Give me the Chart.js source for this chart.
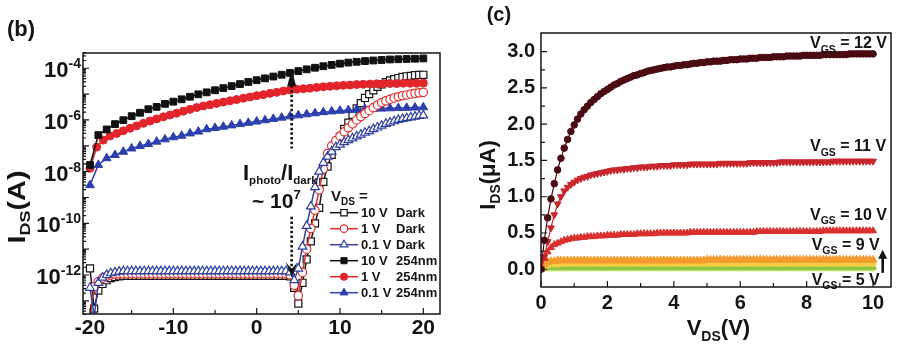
<!DOCTYPE html>
<html>
<head>
<meta charset="utf-8">
<title>Transfer and output curves</title>
<script src="https://cdn.jsdelivr.net/npm/chart.js@4.4.1/dist/chart.umd.min.js"></script>
<style>
  html, body { margin: 0; padding: 0; background: #fff; }
  #wrap { position: relative; width: 897px; height: 351px; overflow: hidden; }
  .panel { position: absolute; top: 0; height: 351px; }
  #panelB { left: 0; width: 450px; }
  #panelC { left: 450px; width: 447px; }
</style>
</head>
<body>
<div id="wrap">
  <div class="panel" id="panelB"><canvas id="transferChart"></canvas></div>
  <div class="panel" id="panelC"><canvas id="outputChart"></canvas></div>
</div>
<script>
const FONT = "'Liberation Sans', Arial, sans-serif";
const INK = "#141414";

// measurement sweep grid (independent variable only)
function sweep(start, step, n) {
    return Array.from({ length: n }, (_, i) => +(start + i * step).toFixed(2));
}

// ---------- (b) transfer curves, I_DS (A) vs V_GS (V) ----------
const vgsStep1 = sweep(-20, 1, 41);
const vgsStep08 = sweep(-20, 0.8, 51);
const vgsStep05 = sweep(-20, 0.5, 81);

// under 254 nm light
const photo10V = [
    1.8e-8, 2.6e-7, 4.3e-7, 6.9e-7, 9.8e-7, 1.4e-6, 1.9e-6, 2.6e-6, 3.2e-6, 4.2e-6,
    5.1e-6, 6.3e-6, 7.9e-6, 9.8e-6, 1.17e-5, 1.41e-5, 1.7e-5, 2.04e-5, 2.45e-5, 2.95e-5,
    3.47e-5, 4.07e-5, 4.79e-5, 5.62e-5, 6.6e-5, 7.76e-5, 9.1e-5, 1.05e-4, 1.2e-4, 1.35e-4,
    1.51e-4, 1.66e-4, 1.78e-4, 1.9e-4, 2.0e-4, 2.09e-4, 2.19e-4, 2.24e-4, 2.29e-4, 2.34e-4,
    2.4e-4
];
const photo1V = [
    1.35e-8, 8.9e-8, 1.66e-7, 2.4e-7, 3.0e-7, 3.8e-7, 4.8e-7, 5.9e-7, 7.4e-7, 9.1e-7,
    1.1e-6, 1.32e-6, 1.55e-6, 1.82e-6, 2.19e-6, 2.57e-6, 3.02e-6, 3.47e-6, 3.89e-6, 4.37e-6,
    4.9e-6, 5.5e-6, 6.17e-6, 6.92e-6, 7.76e-6, 8.7e-6, 9.55e-6, 1.07e-5, 1.17e-5, 1.32e-5,
    1.45e-5, 1.55e-5, 1.62e-5, 1.7e-5, 1.82e-5, 1.91e-5, 2.0e-5, 2.09e-5, 2.19e-5, 2.24e-5,
    2.34e-5, 2.4e-5, 2.45e-5, 2.51e-5, 2.51e-5, 2.57e-5, 2.57e-5, 2.63e-5, 2.63e-5, 2.63e-5,
    2.69e-5
];
const photo01V = [
    3.0e-9, 1.82e-8, 3.3e-8, 4.4e-8, 5.9e-8, 7.9e-8, 9.8e-8, 1.17e-7, 1.45e-7, 1.78e-7,
    2.14e-7, 2.45e-7, 3.02e-7, 3.55e-7, 4.37e-7, 4.9e-7, 5.5e-7, 6.17e-7, 6.92e-7, 7.76e-7,
    8.7e-7, 9.77e-7, 1.1e-6, 1.23e-6, 1.38e-6, 1.51e-6, 1.66e-6, 1.82e-6, 2.0e-6, 2.14e-6,
    2.29e-6, 2.4e-6, 2.51e-6, 2.63e-6, 2.69e-6, 2.75e-6, 2.82e-6, 2.88e-6, 2.95e-6, 3.02e-6,
    3.09e-6
];

// in the dark
const dark10V = [
    1.8e-12, 5.0e-14, 2.5e-13, 4.5e-13, 6.3e-13, 7.6e-13, 8.3e-13, 8.9e-13,
    9.3e-13, 9.3e-13, 9.3e-13, 9.3e-13, 9.3e-13, 9.3e-13, 9.3e-13, 9.3e-13, 9.3e-13, 9.3e-13,
    9.3e-13, 9.3e-13, 9.3e-13, 9.3e-13, 9.3e-13, 9.3e-13, 9.3e-13, 9.3e-13, 9.3e-13, 9.3e-13,
    9.3e-13, 9.3e-13, 9.3e-13, 9.3e-13, 9.3e-13, 9.3e-13, 9.3e-13, 9.3e-13, 9.3e-13, 9.3e-13,
    9.3e-13, 9.3e-13, 9.3e-13, 9.3e-13, 9.3e-13, 9.3e-13, 9.3e-13, 9.3e-13, 9.3e-13, 9.3e-13,
    8.9e-13, 3.2e-13, 7.9e-14, 5.0e-13, 4.0e-12, 2.0e-11, 1.0e-10, 4.0e-10, 4.0e-9, 1.58e-8,
    4.5e-8, 1.05e-7, 2.24e-7, 4.5e-7, 7.9e-7, 1.58e-6, 2.8e-6, 4.5e-6, 7.1e-6, 1.0e-5,
    1.41e-5, 1.9e-5, 2.4e-5, 2.9e-5, 3.4e-5, 3.8e-5, 4.2e-5, 4.6e-5, 4.9e-5, 5.1e-5,
    5.4e-5, 5.5e-5, 5.6e-5
];
const dark1V = [
    2.0e-14, 3.5e-13, 5.6e-13, 7.6e-13, 8.9e-13, 1.0e-12, 1.07e-12, 1.12e-12,
    1.12e-12, 1.12e-12, 1.12e-12, 1.12e-12, 1.12e-12, 1.12e-12, 1.12e-12, 1.12e-12, 1.12e-12, 1.12e-12,
    1.12e-12, 1.12e-12, 1.12e-12, 1.12e-12, 1.12e-12, 1.12e-12, 1.12e-12, 1.12e-12, 1.12e-12, 1.12e-12,
    1.12e-12, 1.12e-12, 1.12e-12, 1.12e-12, 1.12e-12, 1.12e-12, 1.12e-12, 1.12e-12, 1.12e-12, 1.12e-12,
    1.12e-12, 1.12e-12, 1.12e-12, 1.12e-12, 1.12e-12, 1.12e-12, 1.12e-12, 1.12e-12, 1.12e-12, 1.12e-12,
    1.0e-12, 4.0e-13, 1.58e-13, 1.26e-12, 1.0e-11, 6.3e-11, 3.2e-10, 2.0e-9, 1.26e-8, 5.0e-8,
    1.0e-7, 1.58e-7, 2.4e-7, 3.5e-7, 5.0e-7, 7.1e-7, 1.0e-6, 1.35e-6, 1.78e-6, 2.34e-6,
    3.0e-6, 3.8e-6, 4.7e-6, 5.5e-6, 6.3e-6, 7.1e-6, 7.9e-6, 8.7e-6, 9.3e-6, 1.0e-5,
    1.07e-5, 1.12e-5, 1.17e-5
];
const dark01V = [
    3.2e-13, 2.5e-14, 5.0e-13, 7.9e-13, 1.0e-12, 1.17e-12, 1.26e-12, 1.35e-12,
    1.41e-12, 1.41e-12, 1.41e-12, 1.41e-12, 1.41e-12, 1.41e-12, 1.41e-12, 1.41e-12, 1.41e-12, 1.41e-12,
    1.41e-12, 1.41e-12, 1.41e-12, 1.41e-12, 1.41e-12, 1.41e-12, 1.41e-12, 1.41e-12, 1.41e-12, 1.41e-12,
    1.41e-12, 1.41e-12, 1.41e-12, 1.41e-12, 1.41e-12, 1.41e-12, 1.41e-12, 1.41e-12, 1.41e-12, 1.41e-12,
    1.41e-12, 1.41e-12, 1.41e-12, 1.41e-12, 1.41e-12, 1.41e-12, 1.41e-12, 1.41e-12, 1.41e-12, 1.41e-12,
    1.26e-12, 6.3e-13, 1.78e-12, 1.26e-11, 7.9e-11, 4.5e-10, 2.5e-9, 1.0e-8, 2.2e-8, 3.8e-8,
    6.0e-8, 8.9e-8, 1.12e-7, 1.38e-7, 1.66e-7, 1.95e-7, 2.3e-7, 2.7e-7, 3.2e-7, 3.7e-7,
    4.4e-7, 5.1e-7, 6.0e-7, 7.1e-7, 7.9e-7, 8.9e-7, 1.0e-6, 1.1e-6, 1.17e-6, 1.26e-6,
    1.35e-6, 1.45e-6, 1.51e-6
];

const bXTicks = [-20, -10, 0, 10, 20];
const bXMinor = [-15, -5, 5, 15];
const bYExponents = [-4, -6, -8, -10, -12];
const bLegendVds = ["10 V", "1 V", "0.1 V", "10 V", "1 V", "0.1 V"];
const bLegendLight = ["Dark", "Dark", "Dark", "254nm", "254nm", "254nm"];
// photo/dark ratio marker: gate voltage, upper arrow (tip, tail), lower arrow (tail, tip)
const ratioVgs = 4.2;
const ratioUpper = [9.1e-5, 7.9e-8];
const ratioLower = [1.8e-10, 8.3e-13];

// ---------- (c) output curves, I_DS (uA) vs V_DS (V) ----------
const vdsSweep = sweep(0, 0.1, 101);
const ids12 = [
    0.00, 0.40, 0.71, 0.97, 1.18, 1.37, 1.53, 1.67, 1.79, 1.90,
    1.99, 2.07, 2.14, 2.20, 2.25, 2.30, 2.34, 2.38, 2.42, 2.45,
    2.48, 2.51, 2.54, 2.56, 2.59, 2.61, 2.63, 2.65, 2.67, 2.68,
    2.70, 2.71, 2.73, 2.74, 2.75, 2.76, 2.77, 2.78, 2.79, 2.79,
    2.80, 2.81, 2.81, 2.82, 2.82, 2.83, 2.84, 2.84, 2.85, 2.85,
    2.86, 2.86, 2.87, 2.87, 2.87, 2.88, 2.88, 2.89, 2.89, 2.89,
    2.90, 2.90, 2.90, 2.91, 2.91, 2.91, 2.92, 2.92, 2.92, 2.92,
    2.93, 2.93, 2.93, 2.93, 2.94, 2.94, 2.94, 2.94, 2.94, 2.95,
    2.95, 2.95, 2.95, 2.95, 2.95, 2.96, 2.96, 2.96, 2.96, 2.96,
    2.96, 2.96, 2.96, 2.97, 2.97, 2.97, 2.97, 2.97, 2.97, 2.97,
    2.97
];
const ids11 = [
    0.00, 0.17, 0.38, 0.57, 0.75, 0.90, 1.00, 1.08, 1.13, 1.17,
    1.20, 1.23, 1.25, 1.27, 1.28, 1.30, 1.31, 1.32, 1.33, 1.34,
    1.35, 1.36, 1.37, 1.37, 1.38, 1.38, 1.39, 1.39, 1.40, 1.40,
    1.41, 1.41, 1.41, 1.42, 1.42, 1.42, 1.43, 1.43, 1.43, 1.43,
    1.44, 1.44, 1.44, 1.44, 1.44, 1.45, 1.45, 1.45, 1.45, 1.45,
    1.45, 1.45, 1.45, 1.45, 1.46, 1.46, 1.46, 1.46, 1.46, 1.46,
    1.46, 1.46, 1.46, 1.47, 1.47, 1.47, 1.47, 1.47, 1.47, 1.47,
    1.47, 1.47, 1.48, 1.48, 1.48, 1.48, 1.48, 1.48, 1.48, 1.48,
    1.48, 1.48, 1.48, 1.48, 1.48, 1.48, 1.48, 1.48, 1.49, 1.49,
    1.49, 1.49, 1.49, 1.49, 1.49, 1.49, 1.49, 1.49, 1.49, 1.49,
    1.49
];
const ids10 = [
    0.00, 0.15, 0.24, 0.30, 0.34, 0.36, 0.38, 0.40, 0.41, 0.42,
    0.43, 0.43, 0.44, 0.44, 0.45, 0.45, 0.45, 0.46, 0.46, 0.46,
    0.47, 0.47, 0.47, 0.47, 0.48, 0.48, 0.48, 0.48, 0.48, 0.49,
    0.49, 0.49, 0.49, 0.49, 0.49, 0.50, 0.50, 0.50, 0.50, 0.50,
    0.50, 0.50, 0.50, 0.50, 0.50, 0.51, 0.51, 0.51, 0.51, 0.51,
    0.51, 0.51, 0.51, 0.51, 0.51, 0.51, 0.51, 0.51, 0.51, 0.51,
    0.51, 0.51, 0.51, 0.51, 0.51, 0.52, 0.52, 0.52, 0.52, 0.52,
    0.52, 0.52, 0.52, 0.52, 0.52, 0.52, 0.52, 0.52, 0.52, 0.52,
    0.52, 0.52, 0.52, 0.52, 0.52, 0.53, 0.53, 0.53, 0.53, 0.53,
    0.53, 0.53, 0.53, 0.53, 0.53, 0.53, 0.53, 0.53, 0.53, 0.53,
    0.53
];
const ids9 = [
    0.00, 0.07, 0.10, 0.11, 0.11, 0.12, 0.12, 0.12, 0.12, 0.12,
    0.12, 0.12, 0.12, 0.12, 0.12, 0.12, 0.12, 0.12, 0.12, 0.12,
    0.12, 0.12, 0.12, 0.12, 0.12, 0.12, 0.12, 0.12, 0.12, 0.12,
    0.12, 0.12, 0.12, 0.12, 0.12, 0.12, 0.12, 0.12, 0.12, 0.12,
    0.12, 0.12, 0.12, 0.12, 0.12, 0.12, 0.12, 0.12, 0.12, 0.12,
    0.13, 0.13, 0.13, 0.13, 0.13, 0.13, 0.13, 0.13, 0.13, 0.13,
    0.13, 0.13, 0.13, 0.13, 0.13, 0.13, 0.13, 0.13, 0.13, 0.13,
    0.13, 0.13, 0.13, 0.13, 0.13, 0.13, 0.13, 0.13, 0.13, 0.13,
    0.13, 0.13, 0.13, 0.13, 0.13, 0.13, 0.13, 0.13, 0.13, 0.13,
    0.13, 0.13, 0.13, 0.13, 0.13, 0.13, 0.13, 0.13, 0.13, 0.13,
    0.13
];
const ids8 = [
    0.00, 0.04, 0.06, 0.07, 0.07, 0.07, 0.08, 0.08, 0.08, 0.08,
    0.08, 0.08, 0.08, 0.08, 0.08, 0.08, 0.08, 0.08, 0.08, 0.08,
    0.08, 0.08, 0.08, 0.08, 0.08, 0.08, 0.08, 0.08, 0.08, 0.08,
    0.08, 0.08, 0.08, 0.08, 0.08, 0.08, 0.08, 0.08, 0.08, 0.08,
    0.08, 0.08, 0.08, 0.08, 0.08, 0.08, 0.08, 0.08, 0.08, 0.08,
    0.08, 0.08, 0.08, 0.08, 0.08, 0.08, 0.08, 0.08, 0.08, 0.08,
    0.08, 0.08, 0.08, 0.08, 0.08, 0.08, 0.08, 0.08, 0.08, 0.08,
    0.08, 0.08, 0.08, 0.08, 0.08, 0.08, 0.08, 0.08, 0.08, 0.08,
    0.08, 0.08, 0.08, 0.08, 0.08, 0.08, 0.08, 0.08, 0.08, 0.08,
    0.08, 0.08, 0.08, 0.08, 0.08, 0.08, 0.08, 0.08, 0.08, 0.08,
    0.08
];
const ids7 = [
    0.00, 0.02, 0.03, 0.03, 0.03, 0.03, 0.03, 0.03, 0.03, 0.03,
    0.03, 0.03, 0.03, 0.03, 0.03, 0.03, 0.03, 0.03, 0.03, 0.03,
    0.03, 0.03, 0.03, 0.03, 0.03, 0.03, 0.03, 0.03, 0.03, 0.03,
    0.03, 0.03, 0.03, 0.03, 0.03, 0.03, 0.03, 0.03, 0.03, 0.03,
    0.03, 0.03, 0.03, 0.03, 0.03, 0.03, 0.03, 0.03, 0.03, 0.03,
    0.03, 0.03, 0.03, 0.03, 0.03, 0.03, 0.03, 0.03, 0.03, 0.03,
    0.03, 0.03, 0.03, 0.03, 0.03, 0.03, 0.03, 0.03, 0.03, 0.03,
    0.03, 0.03, 0.03, 0.03, 0.03, 0.03, 0.03, 0.03, 0.03, 0.03,
    0.03, 0.03, 0.03, 0.03, 0.03, 0.03, 0.03, 0.03, 0.03, 0.03,
    0.03, 0.03, 0.03, 0.03, 0.03, 0.03, 0.03, 0.03, 0.03, 0.03,
    0.03
];
const ids6 = [
    0.00, 0.01, 0.01, 0.01, 0.01, 0.01, 0.01, 0.01, 0.01, 0.01,
    0.01, 0.01, 0.01, 0.01, 0.01, 0.01, 0.01, 0.01, 0.01, 0.01,
    0.01, 0.01, 0.01, 0.01, 0.01, 0.01, 0.01, 0.01, 0.01, 0.01,
    0.01, 0.01, 0.01, 0.01, 0.01, 0.01, 0.01, 0.01, 0.01, 0.01,
    0.01, 0.01, 0.01, 0.01, 0.01, 0.01, 0.01, 0.01, 0.01, 0.01,
    0.01, 0.01, 0.01, 0.01, 0.01, 0.01, 0.01, 0.01, 0.01, 0.01,
    0.01, 0.01, 0.01, 0.01, 0.01, 0.01, 0.01, 0.01, 0.01, 0.01,
    0.01, 0.01, 0.01, 0.01, 0.01, 0.01, 0.01, 0.01, 0.01, 0.01,
    0.01, 0.01, 0.01, 0.01, 0.01, 0.01, 0.01, 0.01, 0.01, 0.01,
    0.01, 0.01, 0.01, 0.01, 0.01, 0.01, 0.01, 0.01, 0.01, 0.01,
    0.01
];
const ids5 = [
    0, 0, 0, 0, 0, 0, 0, 0, 0, 0,
    0, 0, 0, 0, 0, 0, 0, 0, 0, 0,
    0, 0, 0, 0, 0, 0, 0, 0, 0, 0,
    0, 0, 0, 0, 0, 0, 0, 0, 0, 0,
    0, 0, 0, 0, 0, 0, 0, 0, 0, 0,
    0, 0, 0, 0, 0, 0, 0, 0, 0, 0,
    0, 0, 0, 0, 0, 0, 0, 0, 0, 0,
    0, 0, 0, 0, 0, 0, 0, 0, 0, 0,
    0, 0, 0, 0, 0, 0, 0, 0, 0, 0,
    0, 0, 0, 0, 0, 0, 0, 0, 0, 0,
    0
];

const cVgs = [12, 11, 10, 9, 8, 7, 6, 5];
const cXTicks = [0, 2, 4, 6, 8, 10];
const cXMinor = [1, 3, 5, 7, 9];
const cYTicks = [0, 0.5, 1, 1.5, 2, 2.5, 3];
const cYMinor = [0.25, 0.75, 1.25, 1.75, 2.25, 2.75];
// curve labels: V_GS value and where the label sits (V_DS, I_DS)
const cNoteVgs = ["12", "11", "10", "9", "5"];
const cNoteAt = [[8.1, 3.05], [8.1, 1.625], [8.1, 0.68], [8.15, 0.266], [8.15, -0.216]];
const cArrow = [10.29, -0.05, 0.27];

// ---------- helpers ----------
function series(xs, ys) {
    return xs.map((x, i) => ({ x, y: ys[i] }));
}

// text made of runs: [text, size, dy]; sx stretches horizontally
function rich(ctx, parts, x, y, align, sx) {
    sx = sx || 1;
    const widths = parts.map(p => {
        ctx.font = `bold ${p[1]}px ${FONT}`;
        return ctx.measureText(p[0]).width * sx;
    });
    const total = widths.reduce((s, w) => s + w, 0);
    let cx = align === "center" ? x - total / 2 : align === "right" ? x - total : x;
    ctx.textAlign = "left";
    ctx.textBaseline = "alphabetic";
    parts.forEach((p, i) => {
        ctx.font = `bold ${p[1]}px ${FONT}`;
        ctx.save();
        ctx.translate(cx, y + (p[2] || 0));
        ctx.scale(sx, 1);
        ctx.fillText(p[0], 0, 0);
        ctx.restore();
        cx += widths[i];
    });
}

function richVertical(ctx, parts, cx, cy, sx) {
    ctx.save();
    ctx.translate(cx, cy);
    ctx.rotate(-Math.PI / 2);
    rich(ctx, parts, 0, parts[0][1] * 0.36, "center", sx);
    ctx.restore();
}

function inwardTicks(ctx, chart, axis, values, len) {
    const a = chart.chartArea, s = chart.scales[axis];
    ctx.beginPath();
    values.forEach(v => {
        const p = s.getPixelForValue(v);
        if (axis === "x") {
            if (p < a.left - 0.5 || p > a.right + 0.5) return;
            ctx.moveTo(p, a.bottom);
            ctx.lineTo(p, a.bottom - len);
        } else {
            if (p < a.top - 0.5 || p > a.bottom + 0.5) return;
            ctx.moveTo(a.left, p);
            ctx.lineTo(a.left + len, p);
        }
    });
    ctx.stroke();
}

const tickFont = size => ({ family: FONT, size, weight: "bold" });

// ---------- (b) chart ----------
// x, y, colour, marker, radius, open marker, drawing order (0 = on top)
const bStyles = [
    [vgsStep05, dark10V, "#161616", "rect", 5, true, 5],
    [vgsStep05, dark1V, "#e0302f", "circle", 4.2, true, 1],
    [vgsStep05, dark01V, "#2e3f9e", "triangle", 5, true, 0],
    [vgsStep1, photo10V, "#111111", "rect", 4.8, false, 2],
    [vgsStep08, photo1V, "#e3242b", "circle", 4, false, 3],
    [vgsStep1, photo01V, "#2b3fae", "triangle", 5, false, 4],
];

const transferSets = bStyles.map((s, i) => ({
    label: bLegendVds[i] + " " + bLegendLight[i],
    data: series(s[0], s[1]),
    borderColor: s[2],
    borderWidth: 1.5,
    pointStyle: s[3],
    pointRadius: s[4],
    pointBorderColor: s[2],
    pointBorderWidth: s[5] ? 1.2 : 1,
    pointBackgroundColor: s[5] ? "#ffffff" : s[2],
    order: s[6],
    tension: 0,
    fill: false,
}));

const transferDecor = {
    id: "transferDecor",
    afterDraw(chart) {
        const { ctx, chartArea: a, scales: { x, y } } = chart;
        ctx.save();
        ctx.strokeStyle = INK;
        ctx.fillStyle = INK;
        ctx.lineWidth = 1.5;
        ctx.strokeRect(a.left, a.top, a.width, a.height);

        ctx.lineWidth = 1.2;
        inwardTicks(ctx, chart, "x", bXTicks, 6);
        inwardTicks(ctx, chart, "x", bXMinor, 4);
        const major = [], minor = [];
        for (let e = -14; e <= -3; e++) {
            major.push(10 ** e);
            for (let k = 2; k <= 9; k++) minor.push(k * 10 ** e);
        }
        inwardTicks(ctx, chart, "y", major, 6);
        inwardTicks(ctx, chart, "y", minor, 3);

        // log tick labels 10^n
        bYExponents.forEach(e => {
            const py = y.getPixelForValue(10 ** e);
            rich(ctx, [["10", 22], [String(e), 14, -9]], a.left - 2, py + 9, "right");
        });

        richVertical(ctx, [["I", 24], ["DS", 15, 5], ["(A)", 24]], 16, 207, 1.2);
        rich(ctx, [["(b)", 22]], 7, 36, "left");

        // photo / dark ratio arrow
        const ax = x.getPixelForValue(ratioVgs);
        const upTip = y.getPixelForValue(ratioUpper[0]);
        const upTail = y.getPixelForValue(ratioUpper[1]);
        const lowTail = y.getPixelForValue(ratioLower[0]);
        const lowTip = y.getPixelForValue(ratioLower[1]);
        ctx.lineWidth = 2.6;
        ctx.setLineDash([2.5, 2.2]);
        ctx.beginPath();
        ctx.moveTo(ax, upTip + 16);
        ctx.lineTo(ax, upTail);
        ctx.moveTo(ax, lowTail);
        ctx.lineTo(ax, lowTip - 8);
        ctx.stroke();
        ctx.setLineDash([]);
        ctx.beginPath();
        ctx.moveTo(ax, upTip);
        ctx.lineTo(ax - 4.5, upTip + 17);
        ctx.lineTo(ax + 4.5, upTip + 17);
        ctx.closePath();
        ctx.fill();
        ctx.beginPath();
        ctx.moveTo(ax, lowTip);
        ctx.lineTo(ax - 6, lowTip - 15);
        ctx.lineTo(ax, lowTip - 8);
        ctx.lineTo(ax + 6, lowTip - 15);
        ctx.closePath();
        ctx.fill();

        rich(ctx, [["I", 22], ["photo", 11.5, 4], ["/I", 22], ["dark", 11.5, 4]],
            x.getPixelForValue(-1.64), y.getPixelForValue(4.8e-9), "left");
        rich(ctx, [["~ 10", 21], ["7", 13, -9]],
            x.getPixelForValue(-0.56), y.getPixelForValue(3.9e-10), "left");

        // legend
        rich(ctx, [["V", 15], ["DS", 10, 4], [" =", 15]], 331, 201, "left");
        chart.data.datasets.forEach((ds, i) => {
            const ly = 212.7 + i * 16;
            ctx.strokeStyle = ds.borderColor;
            ctx.lineWidth = 1.5;
            ctx.beginPath();
            ctx.moveTo(330, ly);
            ctx.lineTo(358, ly);
            ctx.stroke();
            ctx.fillStyle = ds.pointBackgroundColor;
            ctx.lineWidth = ds.pointBorderWidth;
            Chart.helpers.drawPoint(ctx, {
                pointStyle: ds.pointStyle, radius: ds.pointRadius * 0.9,
                rotation: 0, borderWidth: ds.pointBorderWidth
            }, 344, ly);
            ctx.fillStyle = INK;
            ctx.font = `bold 13px ${FONT}`;
            ctx.textBaseline = "middle";
            ctx.textAlign = "left";
            ctx.fillText(bLegendVds[i], 361, ly + 0.5);
            ctx.fillText(bLegendLight[i], 396, ly + 0.5);
        });
        ctx.restore();
    }
};

new Chart(document.getElementById("transferChart"), {
    type: "line",
    data: { datasets: transferSets },
    options: {
        responsive: true,
        maintainAspectRatio: false,
        animation: false,
        events: [],
        layout: { padding: { top: 53, right: 10, left: 0, bottom: 0 } },
        plugins: { legend: { display: false }, tooltip: { enabled: false } },
        scales: {
            x: {
                type: "linear",
                min: -20.84,
                max: 22.0,
                grid: { display: false, drawTicks: false },
                border: { display: false },
                afterBuildTicks: s => { s.ticks = bXTicks.map(v => ({ value: v })); },
                ticks: { color: INK, font: tickFont(21), padding: 2, maxRotation: 0, autoSkip: false },
                afterFit: s => { s.height = 37; },
            },
            y: {
                type: "logarithmic",
                min: 3.1e-14,
                max: 3.9e-4,
                grid: { display: false, drawTicks: false },
                border: { display: false },
                ticks: { display: false },
                afterFit: s => { s.width = 83; },
            },
        },
    },
    plugins: [transferDecor],
});

// ---------- (c) chart ----------
const cStyles = [
    [ids12, "#4b0b12", "circle", 0, 3.3],
    [ids11, "#c8262c", "triangle", 180, 4],
    [ids10, "#d9302e", "triangle", 0, 4],
    [ids9, "#f39b2e", "triangle", 0, 4.5],
    [ids8, "#f3cc48", "circle", 0, 3],
    [ids7, "#8cc641", "triangle", 0, 4],
    [ids6, "#b9dd61", "circle", 0, 2.5],
    [ids5, "#4a7fd4", "circle", 0, 0],
];

const outputSets = cStyles.map((s, i) => ({
    label: "VGS = " + cVgs[i] + " V",
    data: series(vdsSweep, s[0]),
    borderColor: s[1],
    borderWidth: 1.2,
    pointStyle: s[2],
    pointRotation: s[3],
    pointRadius: s[4],
    pointBorderColor: s[1],
    pointBackgroundColor: s[1],
    pointBorderWidth: 1,
    tension: 0,
    fill: false,
}));

const outputDecor = {
    id: "outputDecor",
    afterDraw(chart) {
        const { ctx, chartArea: a, scales: { x, y } } = chart;
        ctx.save();
        ctx.strokeStyle = INK;
        ctx.fillStyle = INK;
        ctx.lineWidth = 1.5;
        ctx.strokeRect(a.left, a.top, a.width, a.height);
        ctx.lineWidth = 1.2;
        inwardTicks(ctx, chart, "x", cXTicks, 6);
        inwardTicks(ctx, chart, "x", cXMinor, 4);
        inwardTicks(ctx, chart, "y", cYTicks, 6);
        inwardTicks(ctx, chart, "y", cYMinor, 4);

        rich(ctx, [["(c)", 20]], 36.7, 21, "left");
        richVertical(ctx, [["I", 22], ["DS", 14, 5], ["(μA)", 22]], 37.5, 175);
        rich(ctx, [["V", 22], ["DS", 14, 6], ["(V)", 22]], 236.7, 335, "left");

        cNoteVgs.forEach((v, i) => {
            rich(ctx, [["V", 16], ["GS", 10.5, 4.5], [" = " + v + " V", 16]],
                x.getPixelForValue(cNoteAt[i][0]), y.getPixelForValue(cNoteAt[i][1]), "left");
        });

        const ax = x.getPixelForValue(cArrow[0]);
        const y0 = y.getPixelForValue(cArrow[1]);
        const y1 = y.getPixelForValue(cArrow[2]);
        ctx.lineWidth = 2.6;
        ctx.beginPath();
        ctx.moveTo(ax, y0);
        ctx.lineTo(ax, y1 + 6);
        ctx.stroke();
        ctx.beginPath();
        ctx.moveTo(ax, y1);
        ctx.lineTo(ax - 4.5, y1 + 9);
        ctx.lineTo(ax + 4.5, y1 + 9);
        ctx.closePath();
        ctx.fill();
        ctx.restore();
    }
};

new Chart(document.getElementById("outputChart"), {
    type: "line",
    data: { datasets: outputSets },
    options: {
        responsive: true,
        maintainAspectRatio: false,
        animation: false,
        events: [],
        layout: { padding: { top: 33, right: 6, left: 0, bottom: 0 } },
        plugins: { legend: { display: false }, tooltip: { enabled: false } },
        scales: {
            x: {
                type: "linear",
                min: 0,
                max: 10.54,
                grid: { display: false, drawTicks: false },
                border: { display: false },
                afterBuildTicks: s => { s.ticks = cXTicks.map(v => ({ value: v })); },
                ticks: { color: INK, font: tickFont(20), padding: 4, maxRotation: 0, autoSkip: false },
                afterFit: s => { s.height = 64; },
            },
            y: {
                type: "linear",
                min: -0.245,
                max: 3.258,
                grid: { display: false, drawTicks: false },
                border: { display: false },
                afterBuildTicks: s => { s.ticks = cYTicks.map(v => ({ value: v })); },
                ticks: { color: INK, font: tickFont(20), padding: 6, callback: v => v.toFixed(1) },
                afterFit: s => { s.width = 91; },
            },
        },
    },
    plugins: [outputDecor],
});
</script>
</body>
</html>
